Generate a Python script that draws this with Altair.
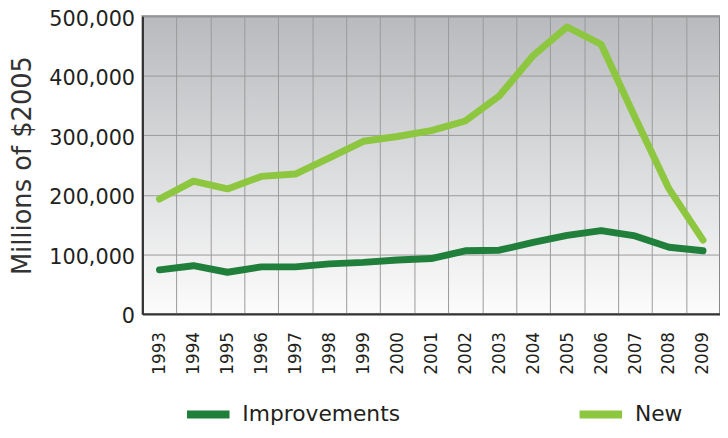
import altair as alt
import pandas as pd

years = ["1993", "1994", "1995", "1996", "1997", "1998", "1999", "2000", "2001",
         "2002", "2003", "2004", "2005", "2006", "2007", "2008", "2009"]
improvements = [74000, 81000, 70000, 79000, 79000, 84000, 86500, 90500, 93000,
                106000, 107000, 120000, 132000, 140000, 131000, 112000, 106000]
new = [193000, 223000, 210000, 231000, 235000, 262000, 290000, 298000, 308000,
       324000, 366000, 434000, 482000, 453000, 330000, 210000, 124000]
series_names = ["Improvements", "New"]
series_colors = ["#1f7f3b", "#8dc63f"]
y_ticks = [0, 100000, 200000, 300000, 400000, 500000]

rows = []
for name, vals in zip(series_names, [improvements, new]):
    for yr, v in zip(years, vals):
        rows.append({"year": yr, "value": v, "series": name})
df = pd.DataFrame(rows)

gradient_expr = ("{gradient: 'linear', x1: 0, y1: 0, x2: 0, y2: 1, stops: ["
                 "{offset: 0, color: '#b9babd'}, {offset: 0.5, color: '#dadbdd'}, "
                 "{offset: 1, color: '#fcfcfc'}]}")

chart = alt.Chart(df).mark_line(
    strokeWidth=7, strokeCap="round", strokeJoin="round"
).encode(
    x=alt.X("year:N", sort=years,
            scale=alt.Scale(type="band", paddingInner=0, paddingOuter=0),
            axis=alt.Axis(title=None, tickBand="extent", grid=True, gridColor="#9a9a9a",
                          gridWidth=1, ticks=False, domainColor="#333333", domainWidth=2,
                          labelAngle=-90, labelAlign="left", labelBaseline="middle",
                          labelPadding=61, labelFontSize=17, labelFont="DejaVu Sans",
                          labelColor="#231f20")),
    y=alt.Y("value:Q", scale=alt.Scale(domain=[0, 500000], nice=False),
            axis=alt.Axis(title="Millions of $2005", values=y_ticks, format=",d",
                          grid=True, gridColor="#9a9a9a", gridWidth=1, ticks=False,
                          domainColor="#333333", domainWidth=2,
                          labelFontSize=21, labelFont="DejaVu Sans", labelColor="#231f20",
                          labelPadding=8, labelOffset=3,
                          titleFont="DejaVu Sans", titleFontSize=26,
                          titleFontWeight="normal", titleColor="#333333", titlePadding=13)),
    color=alt.Color("series:N", sort=series_names,
                    scale=alt.Scale(domain=series_names, range=series_colors),
                    legend=alt.Legend(title=None, orient="none", direction="horizontal",
                                      columns=2, legendX=41, legendY=377,
                                      symbolType="stroke", symbolSize=1849,
                                      symbolStrokeWidth=8, labelOffset=9,
                                      columnPadding=165, labelFontSize=22,
                                      labelFont="DejaVu Sans", labelColor="#231f20",
                                      labelLimit=400)),
).properties(
    width=584, height=301,
    autosize=alt.AutoSizeParams(type="none"),
    padding={"left": 136, "top": 6, "right": 0, "bottom": 111},
).configure_view(
    fill={"expr": gradient_expr},
    stroke="#888888", strokeWidth=2,
)

chart.save("out.html", embed_options={"renderer": "svg", "actions": False})
